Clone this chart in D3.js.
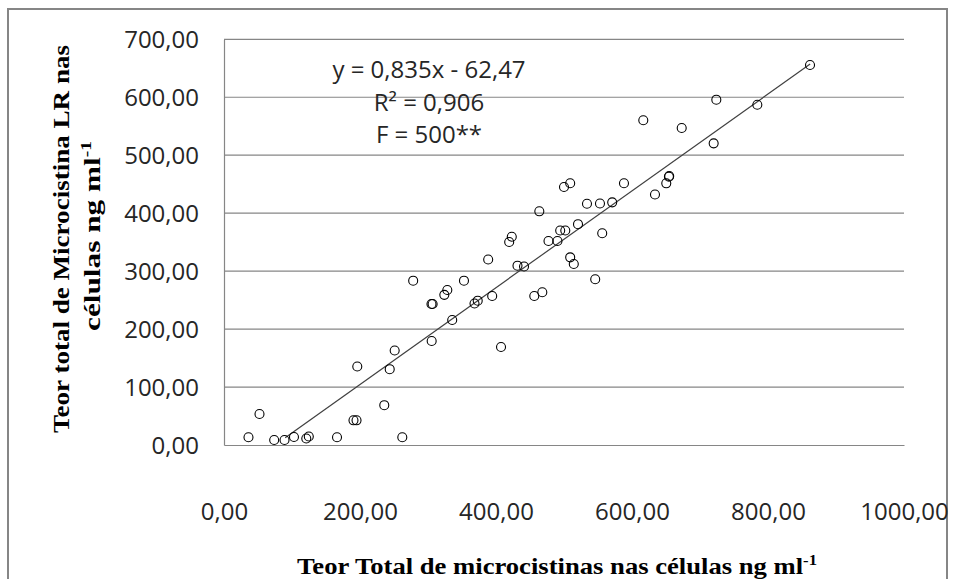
<!DOCTYPE html>
<html>
<head>
<meta charset="utf-8">
<script src="https://cdn.jsdelivr.net/npm/d3@7"></script>
<style>
  body { margin: 0; background: #fff; }
  svg { display: block; }
  .tick text { font-family: 'Open Sans', sans-serif; font-size: 24px; fill: #262626; }
  .title { font-family: 'Liberation Serif', 'Times New Roman', serif; font-weight: bold; fill: #000; }
  .eq { font-family: 'Open Sans', sans-serif; font-size: 24px; fill: #262626; }
</style>
</head>
<body>
<svg id="chart" width="956" height="579"></svg>
<script>
// values (x = total microcystins, y = microcystin LR)
const xValues = [36, 52.2, 73.8, 89, 102.9, 121, 124.7, 166.2, 190.4, 194.9,
  196, 235.7, 262.2, 243.7, 251, 305.4, 278.2, 305.1, 306.8, 324,
  328.4, 352.9, 368.4, 373.1, 335.6, 394.4, 388.5, 431.6, 441.2, 407.4,
  456.3, 468.1, 419.4, 423.2, 477.2, 490.4, 463.7, 494.4, 501.9, 509.1,
  514.4, 520.6, 545.9, 556.2, 500, 509.1, 533.8, 552.9, 570.9, 588.2,
  616.6, 633.8, 650.4, 654.3, 654.7, 673.1, 720.1, 724, 784.3, 861.8]
const yValues = [13.3, 53.5, 8.6, 8.6, 13.8, 11.2, 14.7, 13.3, 42.6, 42.6,
  135.4, 68.7, 13.3, 130.8, 163, 179.4, 283.5, 243.3, 243.3, 259.1,
  267.4, 283.5, 244.1, 249, 215.7, 257.1, 320, 309.4, 308, 169.1,
  257.1, 263.5, 350.2, 359.4, 352, 352, 403.2, 370.1, 370.1, 323.8,
  312.3, 381, 285.9, 365.4, 445.1, 451.7, 416.3, 416.7, 418.7, 451.7,
  560.4, 432.2, 451.5, 462.9, 464.1, 546.9, 520.5, 595.8, 587.1, 655.6]

const xTicks = [0, 200, 400, 600, 800, 1000]
const yTicks = [0, 100, 200, 300, 400, 500, 600, 700]

// linear fit shown on the chart
const slope = 0.835
const intercept = -62.47
const trendRange = [90, 862]
const equationLines = ['y = 0,835x - 62,47', 'R² = 0,906', 'F = 500**']

const fmt = d => d3.format('.2f')(d).replace('.', ',')

const svg = d3.select('#chart')

const plot = { left: 224, right: 904, top: 39.3, bottom: 445 }

const x = d3.scaleLinear().domain([0, 1000]).range([plot.left, plot.right])
const y = d3.scaleLinear().domain([0, 700]).range([plot.bottom, plot.top])

// outer frame
svg.append('rect')
  .attr('x', 8).attr('y', 9)
  .attr('width', 939).attr('height', 590)
  .attr('fill', '#fff')
  .attr('stroke', '#868686')
  .attr('stroke-width', 2)

// horizontal gridlines
svg.append('g')
  .selectAll('line')
  .data(yTicks.filter(d => d > 0))
  .join('line')
  .attr('x1', plot.left).attr('x2', plot.right)
  .attr('y1', d => y(d)).attr('y2', d => y(d))
  .attr('stroke', '#868686')
  .attr('stroke-width', 1.2)

// y axis
const yAxis = svg.append('g')
  .attr('transform', `translate(${plot.left},0)`)
  .call(d3.axisLeft(y).tickValues(yTicks).tickFormat(fmt).tickSize(0).tickPadding(25))
yAxis.select('.domain').attr('stroke', '#868686').attr('stroke-width', 1.2)
yAxis.selectAll('.tick text').attr('dy', '0.36em')

// x axis
const xAxis = svg.append('g')
  .attr('transform', `translate(0,${plot.bottom})`)
  .call(d3.axisBottom(x).tickValues(xTicks).tickFormat(fmt).tickSize(0).tickPadding(58))
xAxis.select('.domain').attr('stroke', '#868686').attr('stroke-width', 1.2)

// trend line
svg.append('line')
  .attr('x1', x(trendRange[0])).attr('y1', y(slope * trendRange[0] + intercept))
  .attr('x2', x(trendRange[1])).attr('y2', y(slope * trendRange[1] + intercept))
  .attr('stroke', '#404040')
  .attr('stroke-width', 1.2)

// data points
svg.append('g')
  .selectAll('circle')
  .data(xValues.map((d, i) => [d, yValues[i]]))
  .join('circle')
  .attr('cx', d => x(d[0]))
  .attr('cy', d => y(d[1]))
  .attr('r', 4.5)
  .attr('fill', 'none')
  .attr('stroke', '#000')
  .attr('stroke-width', 1.1)

// equation block
svg.append('g')
  .selectAll('text')
  .data(equationLines)
  .join('text')
  .attr('class', 'eq')
  .attr('x', 429)
  .attr('y', (d, i) => 78 + i * 32.5)
  .attr('text-anchor', 'middle')
  .text(d => d)

// x axis title
const xTitle = svg.append('text')
  .attr('class', 'title')
  .attr('x', 297).attr('y', 574)
  .attr('font-size', 24)
  .attr('textLength', 520)
  .attr('lengthAdjust', 'spacingAndGlyphs')
xTitle.append('tspan').text('Teor Total de microcistinas nas células ng ml')
xTitle.append('tspan').attr('dy', -9).attr('font-size', 15).text('-1')

// y axis title, two lines
svg.append('text')
  .attr('class', 'title')
  .attr('transform', 'translate(69,239) rotate(-90)')
  .attr('text-anchor', 'middle')
  .attr('font-size', 24)
  .attr('textLength', 388)
  .attr('lengthAdjust', 'spacingAndGlyphs')
  .text('Teor total de Microcistina LR nas')

const yTitle2 = svg.append('text')
  .attr('class', 'title')
  .attr('transform', 'translate(100,236) rotate(-90)')
  .attr('text-anchor', 'middle')
  .attr('font-size', 24)
  .attr('textLength', 190)
  .attr('lengthAdjust', 'spacingAndGlyphs')
yTitle2.append('tspan').text('células ng ml')
yTitle2.append('tspan').attr('dy', -9).attr('font-size', 15).text('-1')
</script>
</body>
</html>
